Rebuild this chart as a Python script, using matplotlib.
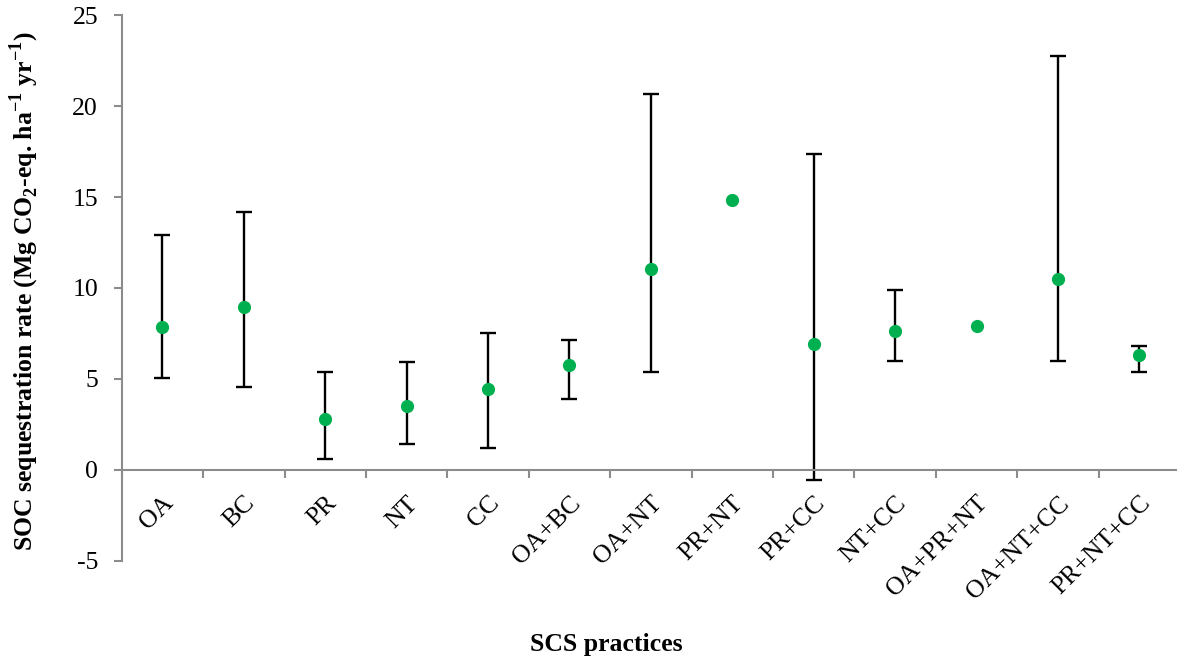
import numpy as np
import matplotlib
matplotlib.use("Agg")
import matplotlib.pyplot as plt
from matplotlib.ticker import FixedLocator, NullFormatter

plt.rcParams['font.family'] = ['Liberation Serif', 'DejaVu Serif']
plt.rcParams['mathtext.fontset'] = 'custom'
plt.rcParams['mathtext.rm'] = 'Liberation Serif'
plt.rcParams['mathtext.bf'] = 'Liberation Serif:bold'

categories = ["OA", "BC", "PR", "NT", "CC", "OA+BC", "OA+NT", "PR+NT", "PR+CC",
              "NT+CC", "OA+PR+NT", "OA+NT+CC", "PR+NT+CC"]
means = [7.85, 8.95, 2.80, 3.49, 4.45, 5.78, 11.05, 14.81, 6.90, 7.61, 7.92, 10.51, 6.33]
lower = [5.05, 4.54, 0.60, 1.44, 1.22, 3.92, 5.41, None, -0.57, 6.00, None, 6.00, 5.41]
upper = [12.92, 14.20, 5.38, 5.95, 7.54, 7.12, 20.66, None, 17.39, 9.90, None, 22.77, 6.83]
yticks = [-5, 0, 5, 10, 15, 20, 25]

fig = plt.figure(figsize=(11.77, 6.61), dpi=100)
ax = fig.add_axes([0.1034, 0.1513, 0.8992, 0.8260])

x = np.arange(len(categories))
idx = [i for i in range(len(categories)) if lower[i] is not None]
m = np.array([means[i] for i in idx])
lo = np.array([lower[i] for i in idx])
hi = np.array([upper[i] for i in idx])
ax.errorbar(x[idx], m, yerr=[m - lo, hi - m], fmt='none', ecolor='black',
            elinewidth=1.7, capsize=6, capthick=1.7, zorder=2)
ax.plot(x, means, 'o', color='#00B050', markersize=8.5, zorder=3, linestyle='none')

ax.set_xlim(-0.5, len(categories) - 0.5)
ax.set_ylim(-5, 25)
ax.set_yticks(yticks)
ax.set_yticklabels([str(v) for v in yticks])

ax.spines['top'].set_visible(False)
ax.spines['right'].set_visible(False)
ax.spines['bottom'].set_position(('data', 0))
for s in ['left', 'bottom']:
    ax.spines[s].set_color('#8c8c8c')
    ax.spines[s].set_linewidth(1.5)

# boundary ticks (major, unlabeled) and category labels (minor)
ax.xaxis.set_major_locator(FixedLocator(np.arange(-0.5, len(categories), 1.0)))
ax.xaxis.set_major_formatter(NullFormatter())
ax.xaxis.set_minor_locator(FixedLocator(x))
ax.set_xticklabels(categories, minor=True, rotation=45, ha='right',
                   rotation_mode='anchor', fontsize=18.5)
ax.tick_params(axis='x', which='major', direction='out', length=6, width=1.5,
               color='#8c8c8c')
ax.tick_params(axis='x', which='minor', length=0, pad=16)
ax.tick_params(axis='y', direction='out', length=6, width=1.5, color='#8c8c8c',
               labelsize=18.5, pad=11)

ax.set_ylabel(r'SOC sequestration rate (Mg CO$_\mathbf{2}$-eq. ha$^\mathbf{-1}$ yr$^\mathbf{-1}$)',
              fontsize=18.5, fontweight='bold')
ax.yaxis.set_label_coords(-0.0765, 0.495)
fig.text(606 / 1177, 1 - 645 / 661, 'SCS practices', fontsize=18.5,
         fontweight='bold', ha='center', va='center')

fig.savefig('out.png', dpi=100)
